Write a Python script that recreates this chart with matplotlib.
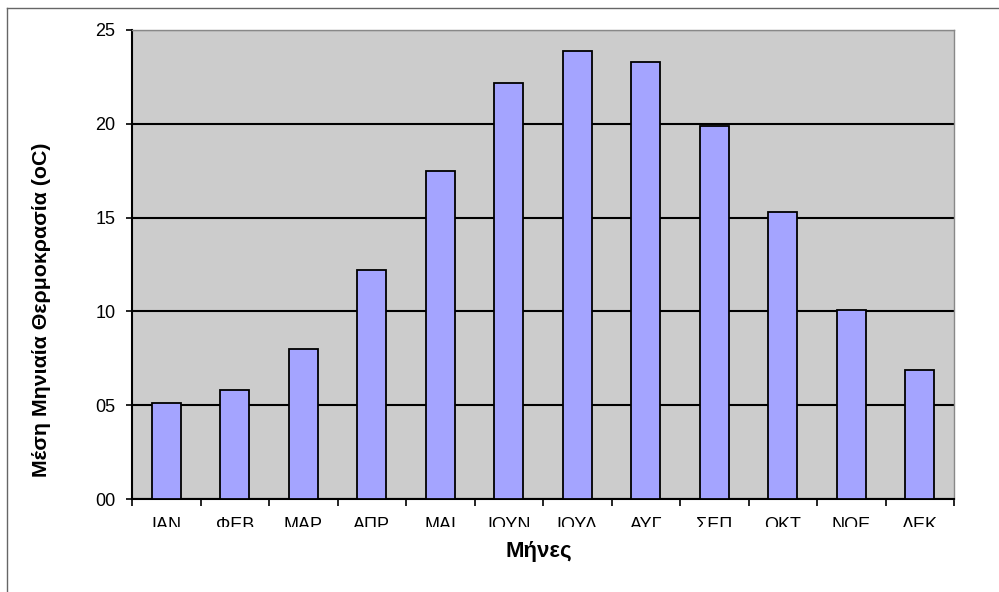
import numpy as np
import matplotlib
matplotlib.use("Agg")
import matplotlib.pyplot as plt
from matplotlib.lines import Line2D
from matplotlib.transforms import Bbox, TransformedBbox

# -----------------------------
# Data
# -----------------------------
months = ["ΙΑΝ", "ΦΕΒ", "ΜΑΡ", "ΑΠΡ", "ΜΑΙ", "ΙΟΥΝ",
          "ΙΟΥΛ", "ΑΥΓ", "ΣΕΠ", "ΟΚΤ", "ΝΟΕ", "ΔΕΚ"]
temps = [5.1, 5.8, 8.0, 12.2, 17.5, 22.2,
         23.9, 23.3, 19.9, 15.3, 10.1, 6.9]
yticks = [0, 5, 10, 15, 20, 25]
ytick_labels = ["00", "05", "10", "15", "20", "25"]

plt.rcParams['font.family'] = ['Liberation Sans', 'DejaVu Sans']

# -----------------------------
# Figure / axes
# -----------------------------
W, H = 999, 592
fig = plt.figure(figsize=(W / 100, H / 100), dpi=100)
ax = fig.add_axes([132 / W, 1 - 499 / H, 822 / W, 469 / H])
ax.set_facecolor("#cccccc")

# outer chart border (only left and top edges show)
fig.add_artist(Line2D([7 / W, 7 / W], [0, 1 - 8 / H],
                      transform=fig.transFigure, color="#666666", lw=1))
fig.add_artist(Line2D([7 / W, 1], [1 - 8 / H, 1 - 8 / H],
                      transform=fig.transFigure, color="#666666", lw=1))

ax.bar(months, temps, width=0.42, color="#a4a4ff",
       edgecolor="black", linewidth=1.3, zorder=3)

ax.set_xlim(-0.5, len(months) - 0.5)
ax.set_ylim(0, 25)
ax.set_yticks(yticks)
ax.set_yticklabels(ytick_labels)
ax.yaxis.grid(True, color="black", linewidth=1.5, zorder=1)
ax.set_axisbelow(True)

# category labels at centres, tick marks at boundaries
ax.tick_params(axis="x", which="major", length=0, pad=13, labelsize=13)
ax.set_xticks(np.arange(-0.5, len(months), 1), minor=True)
ax.tick_params(axis="x", which="minor", length=5, width=1.2, color="black")
ax.tick_params(axis="y", length=4, width=1.2, pad=8, labelsize=13)

for side in ["top", "right"]:
    ax.spines[side].set_color("#888888")
    ax.spines[side].set_linewidth(1)
for side in ["left", "bottom"]:
    ax.spines[side].set_color("black")
    ax.spines[side].set_linewidth(1.5)

ax.set_xlabel("Μήνες", fontsize=16, fontweight="bold")
ax.xaxis.set_label_coords(0.4955, -0.0896)
ax.set_ylabel("Μέση Μηνιαία Θερμοκρασία (oC)", fontsize=15.4, fontweight="bold")
ax.yaxis.set_label_coords(-0.0985, 0.403)

# the month labels are cut at the bottom in the original
clip = TransformedBbox(Bbox([[0, 1 - 527 / H], [1, 1]]), fig.transFigure)
for lab in ax.get_xticklabels():
    lab.set_clip_on(True)
    lab.set_clip_box(clip)

fig.savefig("out.png", dpi=100)
